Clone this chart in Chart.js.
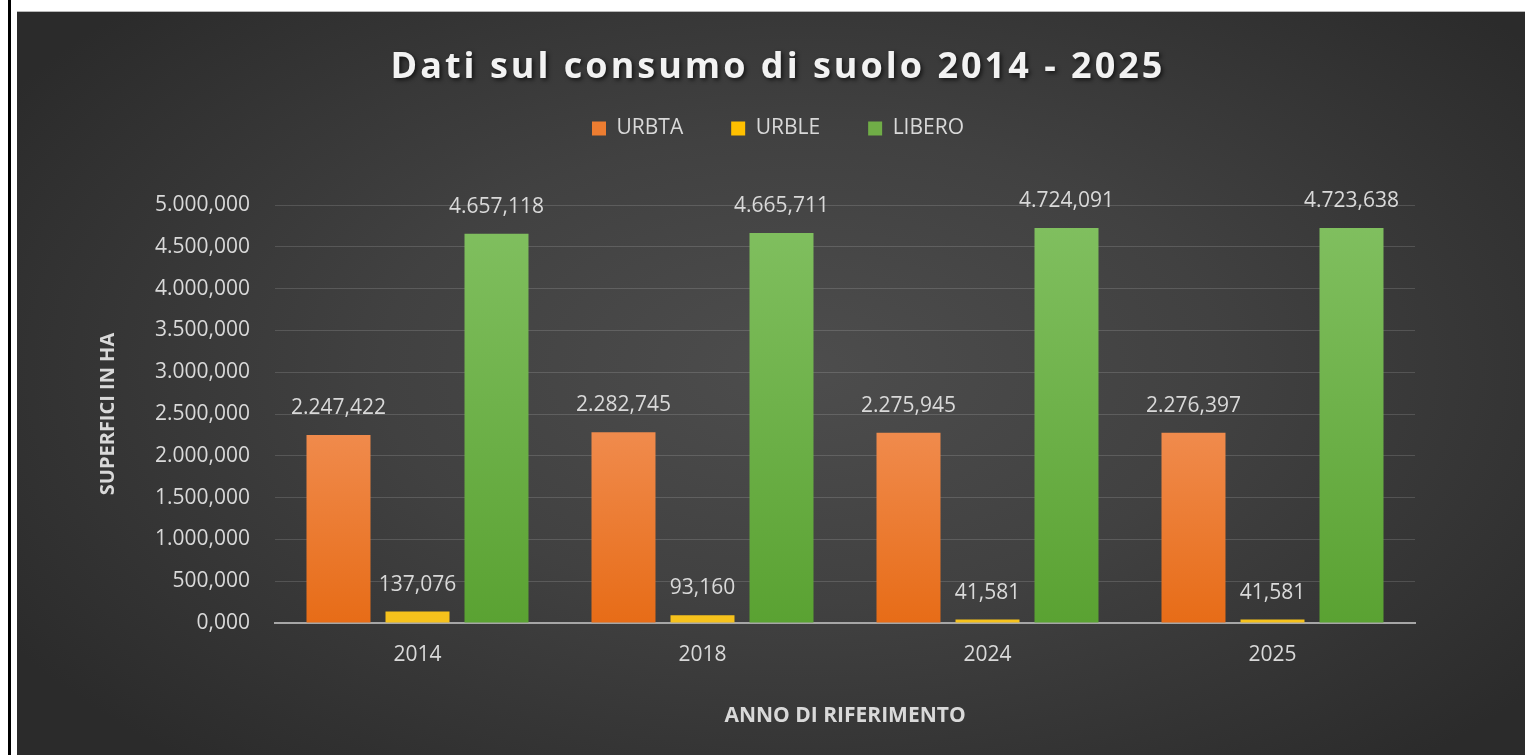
<!DOCTYPE html>
<html>
<head>
<meta charset="utf-8">
<script src="https://cdn.jsdelivr.net/npm/chart.js@4.4.1/dist/chart.umd.min.js"></script>
<style>
    html, body { margin: 0; padding: 0; background: #fff; width: 1540px; height: 755px; overflow: hidden; }
    #edge { position: absolute; left: 8px; top: 0; width: 3px; height: 755px; background: #000; }
    #frame {
        position: absolute; left: 17px; top: 11px; width: 1508px; height: 744px;
        border-top: 1px solid #b8b8b8; box-sizing: border-box;
        background: radial-gradient(ellipse 62% 70% at 52% 48%, #4d4d4d 0%, #414141 45%, #2b2b2b 100%);
    }
    canvas { display: block; }
</style>
</head>
<body>
<div id="edge"></div>
<div id="frame"><canvas id="chart" width="1508" height="743"></canvas></div>
<script>
    // Dati
    const years = ['2014', '2018', '2024', '2025'];
    const urbta = [2247.422, 2282.745, 2275.945, 2276.397];
    const urble = [137.076, 93.160, 41.581, 41.581];
    const libero = [4657.118, 4665.711, 4724.091, 4723.638];
    const yMin = 0;
    const yMax = 5000;
    const yStep = 500;

    const legendColors = ['#ed7d31', '#ffc000', '#70ad47'];

    // formato "4.657,118"
    function fmtIt(v) {
        const parts = v.toFixed(3).split('.');
        const intPart = parts[0].replace(/\B(?=(\d{3})+(?!\d))/g, '.');
        return intPart + ',' + parts[1];
    }

    function vGradient(stops) {
        return function (c) {
            const area = c.chart.chartArea;
            if (!area) return stops[0][1];
            const g = c.chart.ctx.createLinearGradient(0, area.bottom, 0, area.top);
            stops.forEach(s => g.addColorStop(s[0], s[1]));
            return g;
        };
    }

    const valueLabels = {
        id: 'valueLabels',
        afterDatasetsDraw(chart) {
            const ctx = chart.ctx;
            ctx.save();
            ctx.font = '21px "Open Sans"';
            ctx.fillStyle = '#d9d9d9';
            ctx.textAlign = 'center';
            ctx.textBaseline = 'middle';
            chart.data.datasets.forEach((ds, i) => {
                chart.getDatasetMeta(i).data.forEach((bar, j) => {
                    ctx.fillText(fmtIt(ds.data[j]), bar.x, bar.y - 27);
                });
            });
            ctx.restore();
        }
    };

    // spaziatura del titolo e spazio sotto la legenda
    const tweaks = {
        id: 'tweaks',
        afterInit(chart) {
            const title = chart.titleBlock;
            const drawTitle = title.draw;
            title.draw = function () {
                const c = this.ctx;
                c.save();
                c.letterSpacing = '3px';
                c.shadowColor = 'rgba(0,0,0,0.65)';
                c.shadowBlur = 4;
                c.shadowOffsetX = 2;
                c.shadowOffsetY = 2;
                drawTitle.apply(this, arguments);
                c.restore();
            };
            const legend = chart.legend;
            const fit = legend.fit;
            legend.fit = function () {
                fit.call(this);
                this.height += 56;
            };
        }
    };

    const tickColor = '#d9d9d9';

    new Chart(document.getElementById('chart'), {
        type: 'bar',
        data: {
            labels: years,
            datasets: [{
                label: 'URBTA',
                data: urbta,
                backgroundColor: vGradient([[0, '#e76c17'], [0.46, '#f08b4d'], [1, '#f5a77a']])
            }, {
                label: 'URBLE',
                data: urble,
                backgroundColor: '#f6c21c'
            }, {
                label: 'LIBERO',
                data: libero,
                backgroundColor: vGradient([[0, '#5aa232'], [0.95, '#80bf5f'], [1, '#82c061']])
            }]
        },
        options: {
            responsive: false,
            animation: false,
            categoryPercentage: 0.8316,
            barPercentage: 0.81,
            layout: {
                padding: { left: 124, right: 110, top: 0, bottom: 26 }
            },
            plugins: {
                title: {
                    display: true,
                    text: 'Dati sul consumo di suolo 2014 - 2025',
                    color: '#f2f2f2',
                    font: { family: 'Open Sans', size: 36, weight: 'bold' },
                    padding: { top: 34.4, bottom: -19.6 }
                },
                legend: {
                    display: true,
                    labels: {
                        color: tickColor,
                        font: { family: 'Open Sans', size: 21 },
                        boxWidth: 14,
                        boxHeight: 14,
                        padding: 48,
                        generateLabels: function (chart) {
                            const items = Chart.defaults.plugins.legend.labels.generateLabels(chart);
                            items.forEach((it, i) => {
                                it.fillStyle = legendColors[i];
                                it.strokeStyle = legendColors[i];
                                it.lineWidth = 0;
                            });
                            return items;
                        }
                    }
                },
                tooltip: { enabled: false }
            },
            scales: {
                x: {
                    grid: { display: false, drawTicks: false },
                    border: { display: true, color: '#a6a6a6', width: 2 },
                    ticks: {
                        color: tickColor,
                        font: { family: 'Open Sans', size: 21 },
                        padding: 19
                    },
                    title: {
                        display: true,
                        text: 'ANNO DI RIFERIMENTO',
                        color: tickColor,
                        font: { family: 'Open Sans', size: 21, weight: 'bold' },
                        padding: { top: 0, bottom: 0 }
                    },
                    afterFit: function (scale) { scale.height = 106; }
                },
                y: {
                    min: yMin,
                    max: yMax,
                    grid: { color: 'rgba(255,255,255,0.14)', lineWidth: 1, drawTicks: false },
                    border: { display: false },
                    ticks: {
                        stepSize: yStep,
                        color: tickColor,
                        font: { family: 'Open Sans', size: 21 },
                        padding: 25,
                        callback: function (value) { return fmtIt(value); }
                    },
                    title: {
                        display: true,
                        text: 'SUPERFICI IN HA',
                        color: tickColor,
                        font: { family: 'Open Sans', size: 20, weight: 'bold' },
                        padding: { top: -45, bottom: 0 }
                    },
                    afterFit: function (scale) { scale.width = 134; }
                }
            }
        },
        plugins: [valueLabels, tweaks]
    });
</script>
</body>
</html>
